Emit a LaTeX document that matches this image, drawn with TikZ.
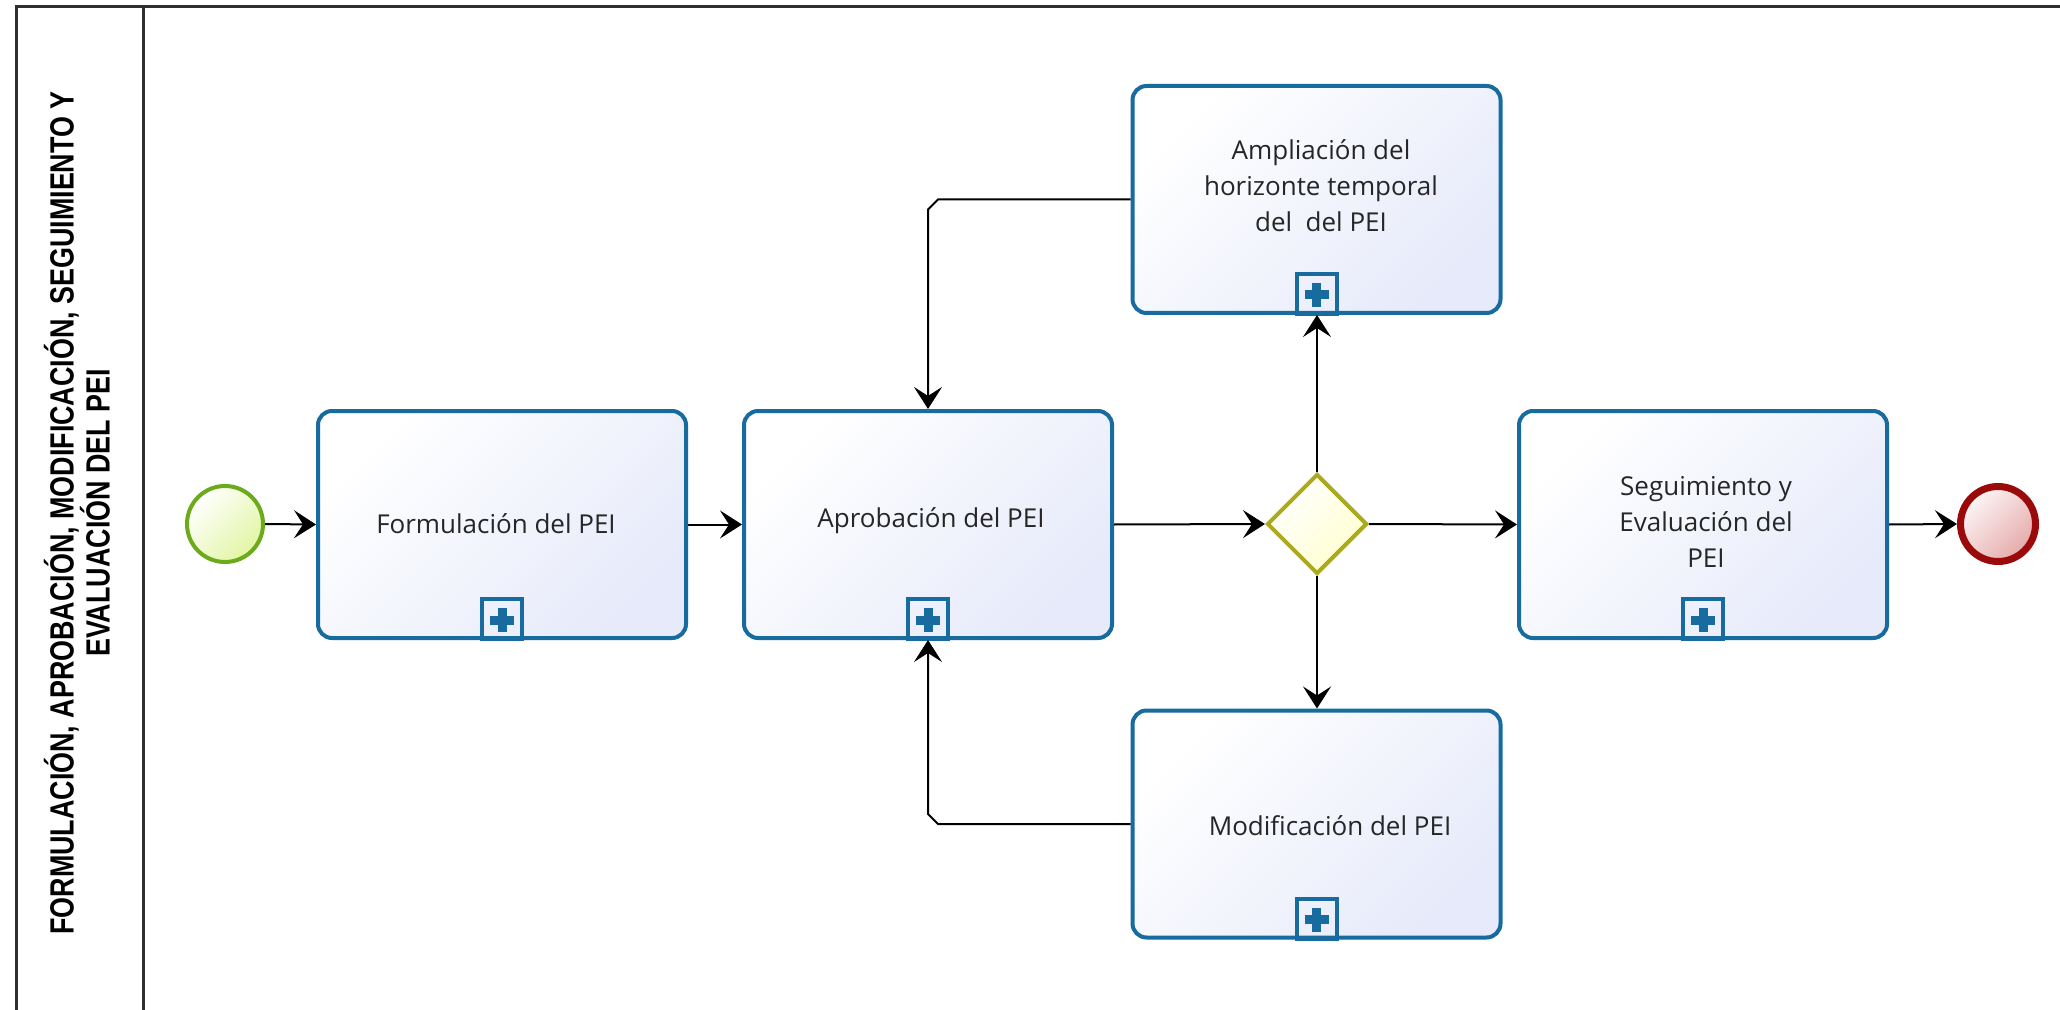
\documentclass[tikz,border=0pt]{standalone}
\usepackage{fontspec}
\setmainfont{Open Sans}
\newfontfamily\lanefont[FakeStretch=0.8]{Liberation Sans}
\usetikzlibrary{shapes.geometric,arrows.meta,calc}
\definecolor{taskblue}{HTML}{176B9E}
\definecolor{taskfill}{HTML}{E6EAFA}
\definecolor{gwline}{HTML}{ABA91E}
\definecolor{gwfill}{HTML}{FFFFCF}
\definecolor{stline}{HTML}{6BAA1B}
\definecolor{stfill}{HTML}{E2F5A4}
\definecolor{endline}{HTML}{9A0A0A}
\definecolor{endfill}{HTML}{E6A9A9}
\definecolor{framecol}{HTML}{303030}
\newcommand\submark[1]{%
  \node[marker] (#1-m) at ($(#1.south)+(0,-21)$) {};
  \draw[pluscross] ($(#1-m)+(-12,1)$) -- ($(#1-m)+(12,1)$);
  \draw[pluscross] ($(#1-m)+(0,-11)$) -- ($(#1-m)+(0,13)$);
}
\begin{document}
\begin{tikzpicture}[x=0.5pt,y=-0.5pt,
  task/.style={draw=taskblue, line width=2pt, rounded corners=7pt,
    minimum width=184pt, minimum height=113.5pt, inner sep=0pt,
    top color=white, bottom color=taskfill, shading angle=45},
  tasktext/.style={font=\fontsize{13}{18}\selectfont, align=center, inner sep=0pt, text=black!85},
  marker/.style={draw=taskblue, line width=2pt, minimum size=20pt, inner sep=0pt},
  pluscross/.style={draw=taskblue, line width=4.5pt},
  gateway/.style={diamond, aspect=1, draw=gwline, line width=2pt,
    minimum width=50pt, minimum height=50pt, inner sep=0pt,
    top color=white, bottom color=gwfill, shading angle=45},
  startev/.style={circle, draw=stline, line width=2pt, minimum size=38pt, inner sep=0pt,
    top color=white, bottom color=stfill, shading angle=45},
  endev/.style={circle, draw=endline, line width=3.5pt, minimum size=37.5pt, inner sep=0pt,
    top color=white!90!endfill, bottom color=endfill, shading angle=45},
  flow/.style={draw=black, line width=1pt, -{Stealth[length=11pt,width=14pt,inset=4.5pt]}},
  framestyle/.style={draw=framecol, line width=1.5pt},
  lanelabel/.style={font=\lanefont\bfseries\fontsize{16.8}{18}\selectfont, align=center, inner sep=0pt}
]
\useasboundingbox (0,0) rectangle (2060,1010);
\fill[white] (0,0) rectangle (2060,1010);

% pool frame
\draw[framestyle] (16,1010) -- (16,7) -- (2060,7);
\draw[framestyle] (143,7) -- (143,1010);
\node[lanelabel, rotate=90] (lane) at (77,513)
  {FORMULACIÓN, APROBACIÓN, MODIFICACIÓN, SEGUIMIENTO Y\\EVALUACIÓN DEL PEI};

% events, tasks, gateway
\node[startev] (start) at (225,524) {};
\node[task] (form) at (502,524.5) {};
\node[task] (apro) at (928,524.5) {};
\node[gateway] (gw) at (1317,524) {};
\node[task] (amp) at (1316.5,199.5) {};
\node[task] (mod) at (1316.5,824) {};
\node[task] (seg) at (1703,524.5) {};
\node[endev] (end) at (1998,524) {};

\submark{form}
\submark{apro}
\submark{amp}
\submark{mod}
\submark{seg}

% connectors
\draw[flow] (start.east) -- (form.west);
\draw[flow] (form.east) -- (apro.west);
\draw[flow] (apro.east) -- (gw.west);
\draw[flow] (gw.east) -- (seg.west);
\draw[flow] (seg.east) -- (end.west);
\draw[flow] (gw.north) -- (gw.north |- amp.south);
\draw[flow] (gw.south) -- (gw.south |- mod.north);
\draw[flow] (amp.west) -- ($(apro.north |- amp.west)+(10,0)$)
  -- ($(apro.north |- amp.west)+(0,10)$) -- (apro.north);
\draw[flow] (mod.west) -- ($(apro.south |- mod.west)+(10,0)$)
  -- ($(apro.south |- mod.west)+(0,-10)$) -- (apro.south);

% texts
\node[tasktext] (form-t) at (496,524) {Formulación del PEI};
\node[tasktext] (apro-t) at (931,521) {Aprobación del PEI};
\node[tasktext] (amp-t) at (1321,186) {Ampliación del\\horizonte temporal\\del\ \ del PEI};
\node[tasktext] (mod-t) at (1330,826) {Modificación del PEI};
\node[tasktext] (seg-t) at (1706,522) {Seguimiento y\\Evaluación del\\PEI};
\end{tikzpicture}
\end{document}
